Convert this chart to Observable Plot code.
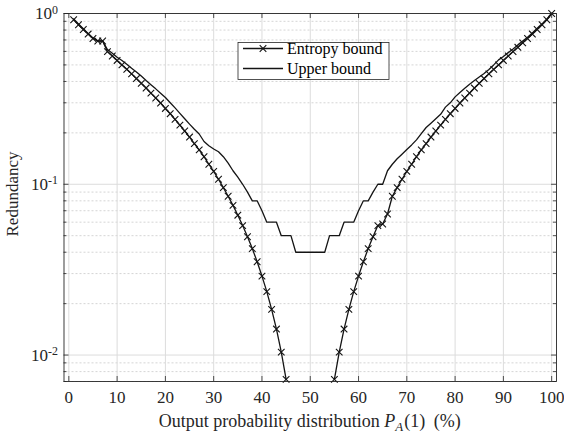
<!DOCTYPE html>
<html><head><meta charset="utf-8">
<script src="https://cdn.jsdelivr.net/npm/d3@7"></script>
<script src="https://cdn.jsdelivr.net/npm/@observablehq/plot@0.6"></script>
<style>
html,body{margin:0;padding:0;background:#fff;}
#chart{width:564px;height:433px;}
</style>
</head><body><div id="chart"></div>
<script>
// ---- data ----
const percent = [1,2,3,4,5,6,7,8,9,10,11,12,13,14,15,16,17,18,19,20,21,22,23,24,25,26,27,28,29,30,31,32,33,34,35,36,37,38,39,40,41,42,43,44,45,46,47,48,49,50,51,52,53,54,55,56,57,58,59,60,61,62,63,64,65,66,67,68,69,70,71,72,73,74,75,76,77,78,79,80,81,82,83,84,85,86,87,88,89,90,91,92,93,94,95,96,97,98,99,100];
const entropyBound = [0.919,0.859,0.806,0.758,0.714,0.69,0.69,0.598,0.564,0.531,
  0.500,0.471,0.443,0.416,0.390,0.366,0.342,0.320,0.299,0.278,
  0.259,0.240,0.222,0.205,0.189,0.173,0.159,0.145,0.131,0.119,
  0.107,0.0956,0.0851,0.0752,0.0659,0.0573,0.0493,0.0420,0.0352,0.0290,
  0.0235,0.0185,0.0142,0.0104,0.0072,null,null,null,null,null,
  null,null,null,null,0.0072,0.0104,0.0142,0.0185,0.0235,0.0290,
  0.0352,0.0420,0.0493,0.0573,0.0585,0.067,0.0851,0.0956,0.107,0.119,
  0.131,0.145,0.159,0.173,0.189,0.205,0.222,0.240,0.259,0.278,
  0.299,0.320,0.342,0.366,0.390,0.416,0.443,0.471,0.500,0.531,
  0.564,0.598,0.634,0.673,0.714,0.758,0.806,0.859,0.919,1.0];
const upperBound = [0.93,0.87,0.815,0.765,0.72,0.69,0.69,0.615,0.585,0.555,
  0.53,0.505,0.478,0.455,0.43,0.405,0.383,0.362,0.341,0.322,
  0.30,0.28,0.26,0.242,0.225,0.21,0.197,0.178,0.168,0.161,
  0.155,0.145,0.133,0.12,0.11,0.10,0.09,0.08,0.08,0.07,
  0.06,0.06,0.06,0.05,0.05,0.05,0.04,0.04,0.04,0.04,
  0.04,0.04,0.04,0.05,0.05,0.05,0.06,0.06,0.06,0.07,
  0.08,0.08,0.09,0.10,0.10,0.12,0.131,0.141,0.15,0.16,
  0.17,0.182,0.198,0.215,0.228,0.242,0.257,0.283,0.30,0.325,
  0.345,0.365,0.385,0.405,0.425,0.445,0.47,0.50,0.535,0.56,
  0.59,0.62,0.655,0.69,0.725,0.77,0.82,0.87,0.93,1.0];
const xTicks = [0,10,20,30,40,50,60,70,80,90,100];
const yMajorTicks = [0.01,0.1,1];
const yExponents = ["-2","-1","0"];
const yMinorTicks = [0.007,0.008,0.009,0.02,0.03,0.04,0.05,0.06,0.07,0.08,0.09,0.2,0.3,0.4,0.5,0.6,0.7,0.8,0.9];
const seriesNames = ["Entropy bound","Upper bound"];
const yLabel = "Redundancy";
const xLabelParts = ["Output probability distribution ", "P", "A", "(1) (%)"];

// ---- layout ----
const W = 564, H = 433;
const mt = 13, mb = 52, ml = 63.5, mr = 8;
const ph = H - mt - mb, pw = W - ml - mr;
const FONT = "'Liberation Serif','Times New Roman',serif";
const AX = "#262626";
const LINE = "#141414";

const rows = percent.map((p, i) => ({p, entropy: entropyBound[i], upper: upperBound[i]}));

const chart = Plot.plot({
  width: W, height: H,
  marginTop: mt, marginBottom: mb, marginLeft: ml, marginRight: mr,
  style: {fontFamily: FONT, fontSize: "17px", color: AX, background: "#fff", overflow: "visible"},
  x: {domain: [-1, 101]},
  y: {type: "log", domain: [0.007, 1]},
  marks: [
    Plot.ruleY(yMinorTicks, {y: d => d, stroke: "#cacaca", strokeDasharray: "2,2", strokeWidth: 0.8}),
    Plot.ruleY(yMajorTicks, {y: d => d, stroke: "#dcdcdc", strokeWidth: 1}),
    Plot.ruleX(xTicks, {x: d => d, stroke: "#dcdcdc", strokeWidth: 1}),
    Plot.line(rows, {x: "p", y: "upper", stroke: LINE, strokeWidth: 1.3}),
    Plot.line(rows, {x: "p", y: "entropy", stroke: LINE, strokeWidth: 1.3}),
    Plot.dot(rows, {x: "p", y: "entropy", symbol: "times", r: 3.1, stroke: LINE, strokeWidth: 1.1}),
    Plot.tickX(xTicks, {x: d => d, insetTop: ph - 5, stroke: AX, strokeWidth: 0.8}),
    Plot.tickX(xTicks, {x: d => d, insetBottom: ph - 5, stroke: AX, strokeWidth: 0.8}),
    Plot.tickY(yMajorTicks, {y: d => d, insetRight: pw - 5, stroke: AX, strokeWidth: 0.8}),
    Plot.tickY(yMajorTicks, {y: d => d, insetLeft: pw - 5, stroke: AX, strokeWidth: 0.8}),
    Plot.tickY(yMinorTicks, {y: d => d, insetRight: pw - 3, stroke: AX, strokeWidth: 0.8}),
    Plot.tickY(yMinorTicks, {y: d => d, insetLeft: pw - 3, stroke: AX, strokeWidth: 0.8}),
    Plot.frame({stroke: AX, strokeWidth: 0.9}),
    Plot.axisX(xTicks, {tickSize: 0, tickPadding: 9, label: null, fontSize: 17, fill: AX}),
    Plot.axisY(yMajorTicks, {tickSize: 0, tickPadding: 6, label: null, fontSize: 17, fill: AX,
      tickFormat: d => "10|" + yExponents[yMajorTicks.indexOf(d)]})
  ]
});
document.getElementById("chart").appendChild(chart);

const svg = d3.select(chart);
// superscript exponents on y tick labels
svg.selectAll('g[aria-label="y-axis tick label"] text').each(function() {
  const t = d3.select(this);
  const parts = t.text().split("|");
  t.text(parts[0]);
  t.append("tspan").attr("dy", "-0.45em").attr("font-size", "0.7em").text(parts[1]);
});

// x axis label
const xl = svg.append("text")
  .attr("x", ml + pw / 2).attr("y", 427)
  .attr("text-anchor", "middle").attr("font-family", FONT).attr("font-size", 18).attr("fill", AX);
xl.append("tspan").text(xLabelParts[0]);
xl.append("tspan").attr("font-style", "italic").text(xLabelParts[1]);
xl.append("tspan").attr("font-style", "italic").attr("font-size", "0.72em").attr("dy", "0.3em").text(xLabelParts[2]);
xl.append("tspan").attr("dy", "-0.22em").attr("dx", 1).attr("word-spacing", 4).text(xLabelParts[3]);

svg.append("text")
  .attr("transform", `translate(18,${mt + ph / 2 - 3}) rotate(-90)`)
  .attr("text-anchor", "middle").attr("font-family", FONT).attr("font-size", 17).attr("fill", AX)
  .text(yLabel);

// legend
const lg = svg.append("g").attr("font-family", FONT).attr("font-size", 16).attr("fill", "#000")
  .attr("text-anchor", "start");
lg.append("rect").attr("x", 238).attr("y", 42.5).attr("width", 151).attr("height", 37)
  .attr("fill", "#fff").attr("stroke", AX).attr("stroke-width", 0.8);
seriesNames.forEach((name, i) => {
  const cy = 48.5 + i * 20;
  lg.append("line").attr("x1", 243).attr("x2", 283).attr("y1", cy).attr("y2", cy)
    .attr("stroke", LINE).attr("stroke-width", 1.3);
  if (i === 0) {
    lg.append("path").attr("d", d3.symbol(d3.symbolTimes, Math.PI * 3.1 * 3.1)())
      .attr("transform", `translate(263,${cy})`).attr("stroke", LINE).attr("fill", "none").attr("stroke-width", 1.1);
  }
  lg.append("text").attr("x", 287).attr("y", cy).attr("dy", "0.33em").text(name);
});
</script>
</body></html>
